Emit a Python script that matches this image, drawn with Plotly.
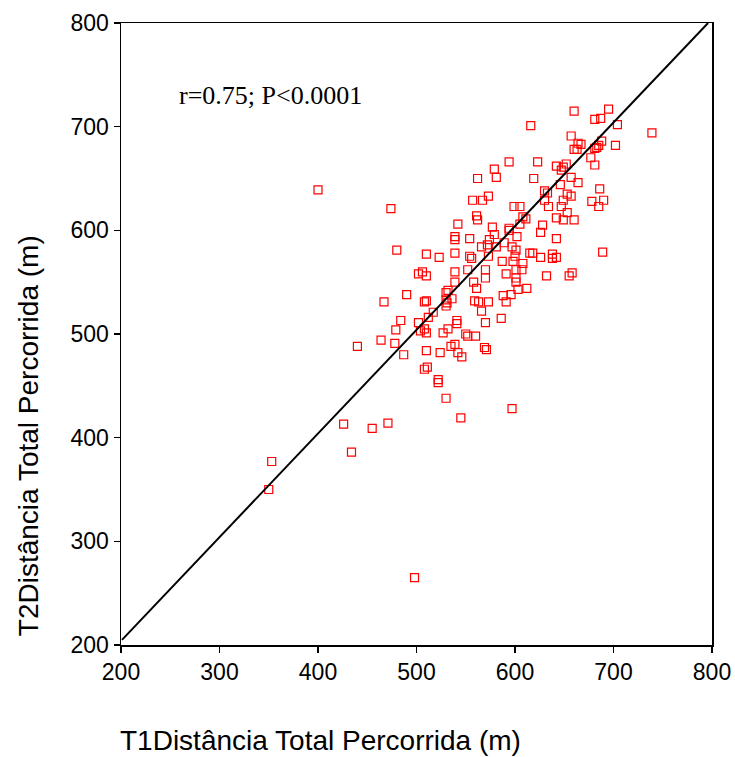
import plotly.graph_objects as go

# T1 (x) and T2 (y) total distance covered (m)
t1 = [616, 594, 623, 642, 579, 562, 581, 619, 630, 633, 557, 567, 573, 630, 474,
      599, 605, 634, 608, 611, 561, 562, 642, 542, 577, 594, 594, 605, 628, 579,
      602, 626, 642, 539, 539, 554, 574, 589, 566, 572, 581, 597, 480, 510, 523,
      539, 554, 556, 573, 601, 600, 615, 618, 626, 638, 638, 642, 587, 598, 608,
      502, 506, 510, 539, 552, 570, 570, 591, 601, 601, 601, 607, 632, 539, 558,
      561, 603, 612, 588, 596, 490, 467, 508, 510, 530, 532, 530, 531, 536, 530,
      559, 563, 573, 591, 566, 517, 512, 484, 502, 541, 541, 570, 586, 479, 504,
      508, 510, 527, 532, 550, 552, 560, 464, 478, 539, 535, 510, 524, 542, 546,
      569, 571, 487, 511, 508, 522, 522, 530, 597, 471, 545, 426, 455, 434, 353,
      350, 498, 695, 660, 681, 687, 704, 739, 657, 688, 685, 683, 681, 702, 664,
      667, 660, 663, 677, 681, 652, 649, 647, 657, 664, 686, 653, 657, 649, 678,
      690, 685, 653, 649, 660, 689, 658, 655, 646, 647, 400, 440]
t2 = [701, 666, 666, 662, 659, 650, 651, 650, 638, 636, 629, 629, 633, 629, 621,
      623, 623, 623, 613, 611, 614, 610, 612, 606, 603, 602, 600, 606, 605, 596,
      594, 598, 592, 594, 591, 592, 591, 588, 584, 586, 584, 584, 581, 577, 574,
      578, 575, 573, 575, 581, 575, 578, 578, 574, 577, 573, 574, 570, 570, 568,
      558, 560, 556, 560, 562, 562, 554, 558, 562, 554, 550, 562, 556, 550, 550,
      544, 543, 544, 537, 538, 538, 531, 531, 532, 540, 542, 533, 530, 534, 527,
      532, 531, 531, 531, 522, 521, 516, 513, 511, 513, 510, 511, 515, 504, 503,
      505, 501, 501, 505, 500, 498, 498, 494, 491, 490, 488, 484, 482, 482, 478,
      487, 485, 480, 468, 466, 456, 453, 438, 428, 414, 419, 413, 409, 386, 377,
      350, 265, 717, 715, 707, 708, 702, 694, 691, 686, 682, 680, 679, 682, 684,
      683, 678, 678, 670, 663, 664, 661, 658, 651, 646, 640, 635, 633, 629, 628,
      629, 623, 617, 610, 610, 579, 559, 556, 644, 623, 639, 488]

line_x = [201, 796]
line_y = [205, 800]

ticks = [200, 300, 400, 500, 600, 700, 800]
stat_text = "r=0.75; P<0.0001"
x_title = "T1Distância Total Percorrida (m)"
y_title = "T2Distância Total Percorrida (m)"

SANS = "Liberation Sans, Arial, sans-serif"
SERIF = "Liberation Serif, Times New Roman, serif"

fig = go.Figure()
fig.add_trace(go.Scatter(
    x=t1, y=t2, mode="markers",
    marker=dict(symbol="square-open", size=8, color="#ff0000",
                line=dict(width=1.2, color="#ff0000")),
    showlegend=False, hoverinfo="skip"))
fig.add_trace(go.Scatter(
    x=line_x, y=line_y, mode="lines",
    line=dict(color="black", width=2), showlegend=False, hoverinfo="skip"))

axis_common = dict(
    range=[200, 800], tickvals=ticks, ticktext=[str(t) for t in ticks],
    showgrid=False, zeroline=False, showline=True, linecolor="black",
    linewidth=1.5, mirror=True, ticks="outside", ticklen=6, tickwidth=1.5,
    tickcolor="black", automargin=False,
    tickfont=dict(family=SANS, size=23, color="black"),
)

fig.update_layout(
    width=735, height=757,
    margin=dict(l=121, r=23, t=23, b=112),
    paper_bgcolor="white", plot_bgcolor="white",
    hovermode=False,
    xaxis=dict(**axis_common),
    yaxis=dict(**axis_common),
    annotations=[
        dict(x=257, y=730, xref="x", yref="y", xanchor="left", yanchor="middle",
             text=stat_text, showarrow=False,
             font=dict(family=SERIF, size=26, color="black")),
        dict(x=0.338, y=-0.153, xref="paper", yref="paper",
             xanchor="center", yanchor="middle", text=x_title, showarrow=False,
             font=dict(family=SANS, size=28, color="black")),
        dict(x=-0.157, y=0.336, xref="paper", yref="paper", textangle=-90,
             xanchor="center", yanchor="middle", text=y_title, showarrow=False,
             font=dict(family=SANS, size=28, color="black")),
    ],
)

# remove the default page margin so the 735x757 figure fills the window exactly
fig.write_html("out.html",
               config={"displayModeBar": False, "staticPlot": True},
               post_script="document.body.style.margin='0px';"
                           "document.body.style.overflow='hidden';")
